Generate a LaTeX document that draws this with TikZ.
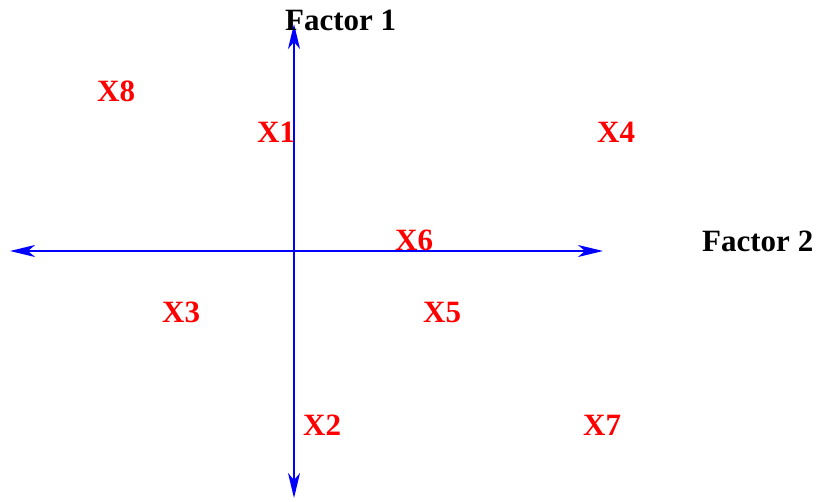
\documentclass[tikz,border=0pt]{standalone}
\usepackage{fontspec}
\setmainfont{Liberation Serif}
\usetikzlibrary{arrows.meta}
\begin{document}
\begin{tikzpicture}[x=1pt,y=-1pt,
  axis/.style={draw=blue,line width=2pt,arrows={Stealth[length=25pt,width=12pt,inset=7pt]-Stealth[length=25pt,width=12pt,inset=7pt]}},
  lbl/.style={text=red,font=\fontsize{31}{31}\selectfont\bfseries,inner sep=0pt,anchor=base west},
  ttl/.style={text=black,font=\fontsize{31}{31}\selectfont\bfseries,inner sep=0pt,anchor=base west}]
\useasboundingbox (0,0) rectangle (819,501);
\coordinate (vt) at (294,24);
\coordinate (vb) at (294,498);
\coordinate (hl) at (10,251);
\coordinate (hr) at (603,251);
\draw[axis] (vt) -- (vb);
\draw[axis] (hl) -- (hr);
\node[ttl] (f1) at (285,30) {Factor 1};
\node[ttl] (f2) at (702,251) {Factor 2};
\node[lbl] (x8) at (97,101) {X8};
\node[lbl] (x1) at (257,142) {X1};
\node[lbl] (x4) at (597,142) {X4};
\node[lbl] (x6) at (395,250) {X6};
\node[lbl] (x3) at (162,322) {X3};
\node[lbl] (x5) at (423,322) {X5};
\node[lbl] (x2) at (303,435) {X2};
\node[lbl] (x7) at (583,435) {X7};
\end{tikzpicture}
\end{document}
